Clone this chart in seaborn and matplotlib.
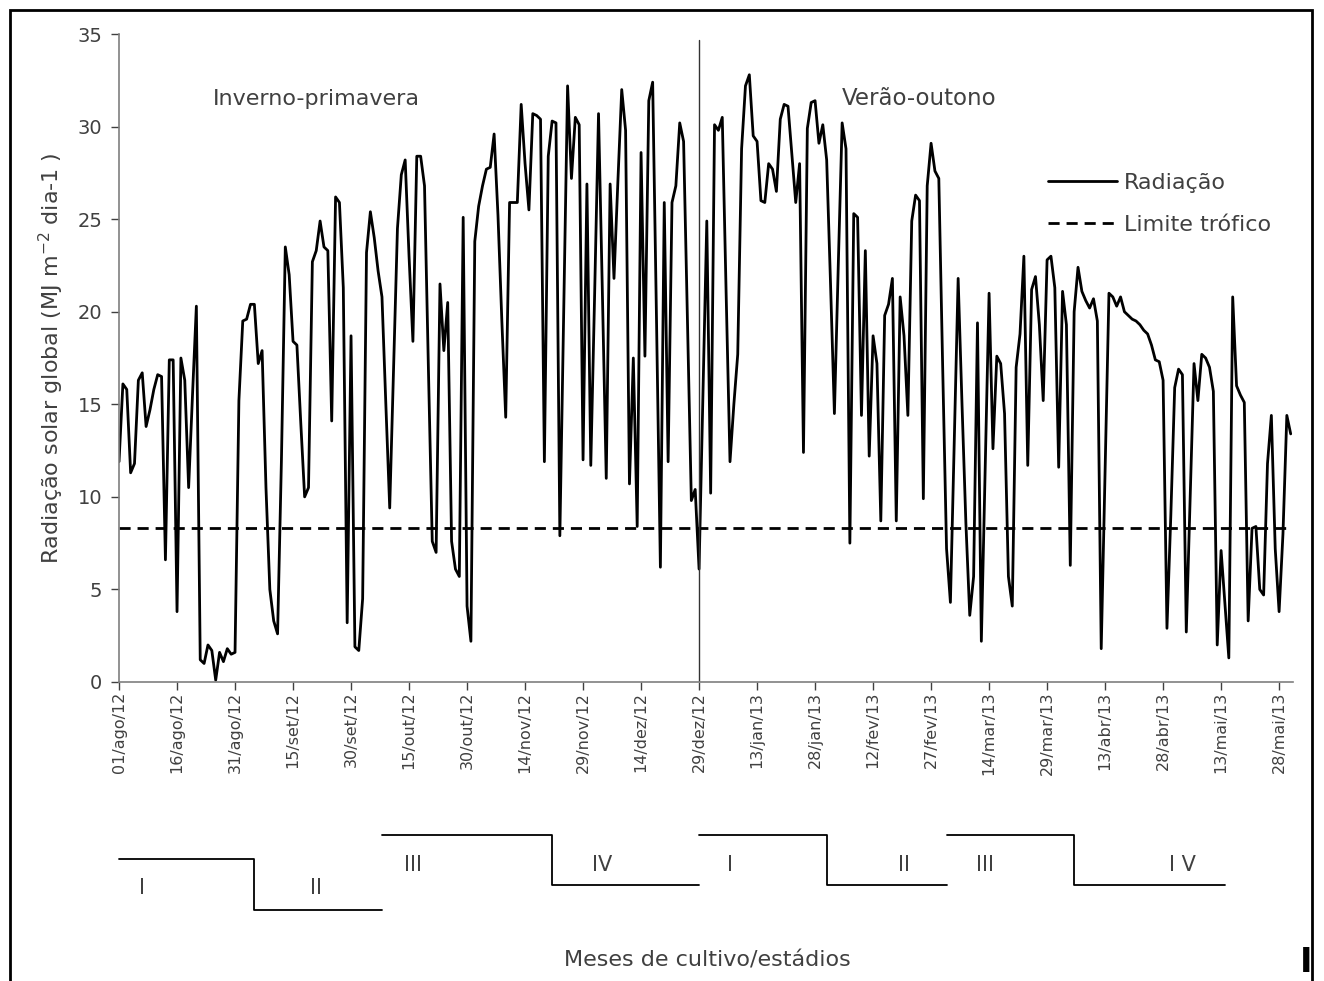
import matplotlib
matplotlib.use("Agg")
import matplotlib.pyplot as plt
import matplotlib.dates as mdates
from matplotlib.lines import Line2D
from matplotlib.patches import Rectangle
import pandas as pd
import seaborn as sns

# radiação solar global diária, 01/ago/12 a 31/mai/13
inicio = "2012-08-01"
radiacao = [
    11.9, 16.1, 15.8, 11.3, 11.8, 16.3, 16.7, 13.8, 14.7, 15.8,
    16.6, 16.5, 6.6, 17.4, 17.4, 3.8, 17.5, 16.3, 10.5, 15.5,
    20.3, 1.2, 1.0, 2.0, 1.7, 0.1, 1.6, 1.1, 1.8, 1.5,
    1.6, 15.2, 19.5, 19.6, 20.4, 20.4, 17.2, 17.9, 10.5, 5.0,
    3.3, 2.6, 12.0, 23.5, 22.0, 18.4, 18.2, 14.0, 10.0, 10.5,
    22.7, 23.3, 24.9, 23.5, 23.3, 14.1, 26.2, 25.9, 21.3, 3.2,
    18.7, 1.9, 1.7, 4.5, 23.2, 25.4, 24.0, 22.2, 20.8, 15.0,
    9.4, 17.0, 24.5, 27.4, 28.2, 23.0, 18.4, 28.4, 28.4, 26.8,
    17.0, 7.6, 7.0, 21.5, 17.9, 20.5, 7.6, 6.1, 5.7, 25.1,
    4.1, 2.2, 23.8, 25.7, 26.8, 27.7, 27.8, 29.6, 25.2, 19.5,
    14.3, 25.9, 25.9, 25.9, 31.2, 28.0, 25.5, 30.7, 30.6, 30.4,
    11.9, 28.4, 30.3, 30.2, 7.9, 20.0, 32.2, 27.2, 30.5, 30.1,
    12.0, 26.9, 11.7, 21.0, 30.7, 21.0, 11.0, 26.9, 21.8, 27.0,
    32.0, 29.8, 10.7, 17.5, 8.4, 28.6, 17.6, 31.4, 32.4, 19.5,
    6.2, 25.9, 11.9, 25.9, 26.8, 30.2, 29.2, 19.5, 9.8, 10.4,
    6.1, 15.5, 24.9, 10.2, 30.1, 29.8, 30.5, 21.0, 11.9, 15.0,
    17.7, 28.8, 32.2, 32.8, 29.5, 29.2, 26.0, 25.9, 28.0, 27.7,
    26.5, 30.4, 31.2, 31.1, 28.5, 25.9, 28.0, 12.4, 29.9, 31.3,
    31.4, 29.1, 30.1, 28.2, 21.5, 14.5, 22.5, 30.2, 28.8, 7.5,
    25.3, 25.1, 14.4, 23.3, 12.2, 18.7, 17.2, 8.7, 19.8, 20.4,
    21.8, 8.7, 20.8, 18.7, 14.4, 24.9, 26.3, 26.0, 9.9, 26.8,
    29.1, 27.6, 27.2, 17.0, 7.2, 4.3, 13.0, 21.8, 15.0, 8.6,
    3.6, 5.7, 19.4, 2.2, 11.5, 21.0, 12.6, 17.6, 17.2, 14.5,
    5.7, 4.1, 17.0, 18.8, 23.0, 11.7, 21.2, 21.9, 19.3, 15.2,
    22.8, 23.0, 21.3, 11.6, 21.1, 19.3, 6.3, 20.0, 22.4, 21.1,
    20.6, 20.2, 20.7, 19.5, 1.8, 11.5, 21.0, 20.8, 20.3, 20.8,
    20.0, 19.8, 19.6, 19.5, 19.3, 19.0, 18.8, 18.2, 17.4, 17.3,
    16.3, 2.9, 9.0, 15.9, 16.9, 16.6, 2.7, 10.0, 17.2, 15.2,
    17.7, 17.5, 17.0, 15.7, 2.0, 7.1, 4.2, 1.3, 20.8, 16.0,
    15.5, 15.1, 3.3, 8.3, 8.4, 5.0, 4.7, 11.8, 14.4, 7.2,
    3.8, 8.0, 14.4, 13.4,
]
limite_trofico = 8.3

tick_labels = ["01/ago/12", "16/ago/12", "31/ago/12", "15/set/12", "30/set/12",
               "15/out/12", "30/out/12", "14/nov/12", "29/nov/12", "14/dez/12",
               "29/dez/12", "13/jan/13", "28/jan/13", "12/fev/13", "27/fev/13",
               "14/mar/13", "29/mar/13", "13/abr/13", "28/abr/13", "13/mai/13",
               "28/mai/13"]

# estádios: (início, troca, fim, rótulos)
estadios = [
    ("2012-08-01", "2012-09-05", "2012-10-08", "I", "II"),
    ("2012-10-08", "2012-11-21", "2012-12-29", "III", "IV"),
    ("2012-12-29", "2013-01-31", "2013-03-03", "I", "II"),
    ("2013-03-03", "2013-04-05", "2013-05-14", "III", "I V"),
]
nivel_alto = [-0.273, -0.236, -0.236, -0.236]
nivel_baixo = [-0.352, -0.313, -0.313, -0.313]
altura_rotulo = [-0.318, -0.282, -0.282, -0.282]
pos_rotulos = [("2012-08-07", "2012-09-21"), ("2012-10-16", "2012-12-04"),
               ("2013-01-06", "2013-02-20"), ("2013-03-13", "2013-05-03")]
inicio_verao = "2012-12-29"

cinza = "#404040"

sns.set_theme(style="ticks")
plt.rcParams['font.family'] = ['DejaVu Sans']

datas = pd.date_range(inicio, periods=len(radiacao), freq="D")
df = pd.DataFrame({"data": datas, "radiacao": radiacao})

fig = plt.figure(figsize=(13.24, 9.81), dpi=100)
ax = fig.add_axes([0.0899, 0.3048, 0.8867, 0.6605])

sns.lineplot(data=df, x="data", y="radiacao", ax=ax, color="black", lw=2.0)
ax.axhline(limite_trofico, color="black", lw=2.0, ls=(0, (4, 2.5)))
ax.axvline(pd.Timestamp(inicio_verao), ymax=34.7 / 35, color="#333333", lw=1.0)

ax.set_ylim(0, 35)
ax.set_xlim(datas[0], datas[0] + pd.Timedelta(days=303.6))
ax.set_yticks(range(0, 36, 5))
ax.set_xticks(datas[::15])
ax.set_xticklabels(tick_labels, rotation=90)
ax.tick_params(axis="y", labelsize=14, colors=cinza, length=6, width=1, pad=6)
ax.tick_params(axis="x", labelsize=11.5, colors=cinza, length=6, width=1, pad=1)
for lab in ax.get_xticklabels() + ax.get_yticklabels():
    lab.set_color(cinza)
for s in ["top", "right"]:
    ax.spines[s].set_visible(False)
for s in ["left", "bottom"]:
    ax.spines[s].set_color("#7f7f7f")
    ax.spines[s].set_linewidth(1.2)

ax.set_xlabel("")
ax.set_ylabel(r"Radiação solar global (MJ m$^{-2}$ dia-1 )", fontsize=16, color=cinza,
              labelpad=8)

ax.text(mdates.date2num(pd.Timestamp("2012-09-21")), 31.5, "Inverno-primavera",
        fontsize=16, color=cinza, ha="center", va="center")
ax.text(mdates.date2num(pd.Timestamp("2013-02-24")), 31.5, "Verão-outono",
        fontsize=16.5, color=cinza, ha="center", va="center")

handles = [Line2D([], [], color="black", lw=2.0),
           Line2D([], [], color="black", lw=2.0, ls=(0, (4, 2.5)))]
ax.legend(handles, ["Radiação", "Limite trófico"], loc="upper left",
          bbox_to_anchor=(1028 / 1324, 1 - 153 / 981), bbox_transform=fig.transFigure,
          frameon=False, fontsize=16, handlelength=3.1, handletextpad=0.3,
          labelspacing=1.0, labelcolor=cinza)

# estádios fenológicos sob o eixo
trans = ax.get_xaxis_transform()
for (a, b, c, r1, r2), hi, lo, ty, (p1, p2) in zip(estadios, nivel_alto, nivel_baixo,
                                                   altura_rotulo, pos_rotulos):
    xs = [pd.Timestamp(a), pd.Timestamp(b), pd.Timestamp(b), pd.Timestamp(c)]
    ax.plot(xs, [hi, hi, lo, lo], color="black", lw=1.3, transform=trans, clip_on=False)
    ax.text(mdates.date2num(pd.Timestamp(p1)), ty, r1, transform=trans,
            fontsize=15, color=cinza, ha="center", va="center")
    ax.text(mdates.date2num(pd.Timestamp(p2)), ty, r2, transform=trans,
            fontsize=15, color=cinza, ha="center", va="center")

fig.text(707 / 1324, 1 - 961 / 981, "Meses de cultivo/estádios", fontsize=16,
         color=cinza, ha="center", va="center")
fig.text(1306 / 1324, 1 - 962 / 981, "I", fontsize=24, fontweight="bold",
         color="black", ha="center", va="center")

fig.add_artist(Rectangle((10 / 1324, -0.05), 1302 / 1324, 1.05 - 10 / 981,
                         transform=fig.transFigure, fill=False, lw=2, color="black"))

fig.savefig("out.png", dpi=100)
